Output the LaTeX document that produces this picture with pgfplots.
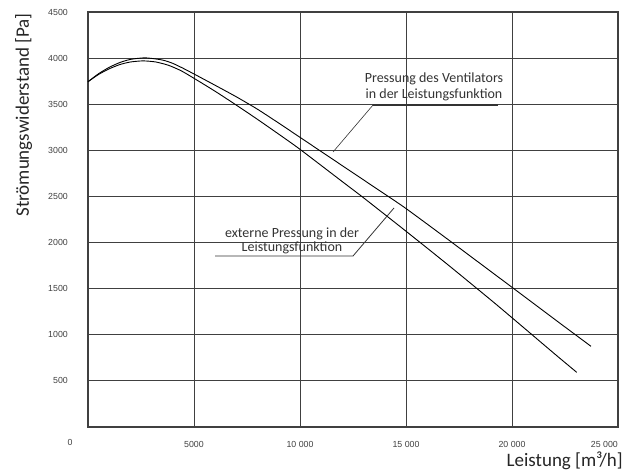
\documentclass[border=0pt]{standalone}
\usepackage{fontspec}
\setmainfont{Carlito}
\newfontfamily\tickfont{Liberation Sans}
\usepackage{pgfplots}
\pgfplotsset{compat=1.18}
\definecolor{gridc}{gray}{0.25}
\definecolor{tickc}{gray}{0.25}
\definecolor{labc}{gray}{0.15}
\definecolor{annc}{gray}{0.2}
\begin{document}
\begin{tikzpicture}
\useasboundingbox (-88pt,-48pt) rectangle (537pt,427pt);
\begin{axis}[
  at={(0,0)}, anchor=south west,
  scale only axis, width=530pt, height=415pt,
  xmin=0, xmax=25000, ymin=0, ymax=4500,
  scaled x ticks=false, scaled y ticks=false,
  xtick={5000,10000,15000,20000},
  xticklabels={5000,10 000,15 000,20 000},
  ytick={500,1000,1500,2000,2500,3000,3500,4000,4500},
  yticklabels={500,1000,1500,2000,2500,3000,3500,4000,4500},
  grid=major,
  major grid style={line width=0.9pt, color=gridc},
  major tick length=0pt,
  axis line style={line width=1.1pt, color=gridc},
  xticklabel style={font=\tickfont\fontsize{8.8}{10}\selectfont, text=tickc, anchor=north, inner sep=0pt, yshift=-14pt},
  yticklabel style={font=\tickfont\fontsize{8.8}{10}\selectfont, text=tickc, anchor=east, inner sep=0pt, xshift=-20pt},
  clip=false,
]
\addplot[black, line width=0.9pt, smooth, tension=0.4] coordinates {
(0,3744) (500,3831) (1000,3900) (1500,3952) (2000,3986) (2700,4003) (3500,3980)
(4000,3943) (4500,3888) (5000,3828) (6000,3705) (7000,3580) (8000,3445) (9000,3295)
(10000,3141) (12000,2833) (14000,2525) (15000,2369) (17000,2030) (20000,1515)
(22000,1170) (23726,875)};
\addplot[black, line width=0.9pt, smooth, tension=0.4] coordinates {
(0,3744) (500,3823) (1000,3884) (1500,3930) (2000,3958) (2600,3970) (3200,3958)
(3800,3922) (4400,3862) (5000,3781) (6000,3640) (7000,3490) (8000,3335) (9000,3175)
(10000,3011) (12000,2660) (13000,2485) (15000,2123) (17000,1755) (19000,1378)
(20000,1185) (22000,795) (23052,593)};
\node[font=\fontsize{14}{16}\selectfont, text=annc, anchor=base] at (axis cs:16321,3741) {Pressung des Ventilators};
\node[font=\fontsize{14}{16}\selectfont, text=annc, anchor=base] at (axis cs:16321,3567) {in der Leistungsfunktion};
\draw[line width=1.3pt, color=annc] (axis cs:13443,3491) -- (axis cs:19340,3491);
\draw[line width=0.6pt, color=annc] (axis cs:13443,3491) -- (axis cs:11557,2982);
\node[font=\fontsize{14}{16}\selectfont, text=annc, anchor=base] at (axis cs:9623,2060) {externe Pressung in der};
\node[font=\fontsize{14}{16}\selectfont, text=annc, anchor=base] at (axis cs:9623,1898) {Leistungsfunktion};
\draw[line width=0.8pt, color=annc] (axis cs:5991,1854) -- (axis cs:12500,1854) -- (axis cs:14434,2375);
\end{axis}
\node[font=\tickfont\fontsize{8.8}{10}\selectfont, text=tickc, inner sep=0pt] at (-18pt,-15pt) {0};
\node[font=\tickfont\fontsize{8.8}{10}\selectfont, text=tickc, inner sep=0pt, anchor=north east] at (530pt,-14pt) {25 000};
\node[font=\fontsize{19}{22}\selectfont, text=labc, inner sep=0pt, anchor=base east] at (535pt,-39pt) {Leistung [m³/h]};
\node[font=\fontsize{19}{22}\selectfont, text=labc, inner sep=0pt, rotate=90, anchor=base east] at (-59pt,414pt) {Strömungswiderstand [Pa]};
\end{tikzpicture}
\end{document}
